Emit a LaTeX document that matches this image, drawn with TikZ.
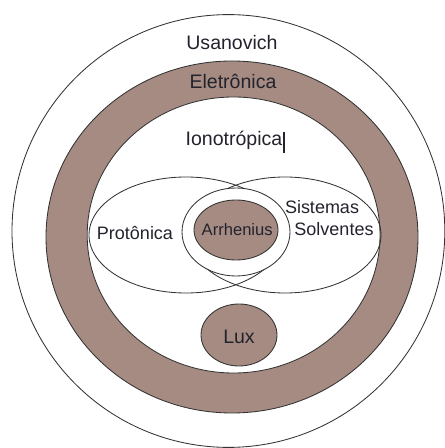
\documentclass[tikz,border=0pt]{standalone}
\usepackage{fontspec}
\setmainfont{Liberation Sans}
\usepackage{tikz}
\usetikzlibrary{positioning}
\definecolor{ringbrown}{RGB}{165,139,130}
\definecolor{txtdark}{RGB}{35,35,45}
\tikzset{
  rim/.style={draw=black!80, line width=0.6pt},
  lbl/.style={font=\fontsize{13.9}{15}\selectfont, text=txtdark, inner sep=0pt},
  lblsmall/.style={font=\fontsize{12.8}{13.6}\selectfont, text=txtdark, inner sep=0pt, align=center}
}
\begin{document}
\begin{tikzpicture}
                \useasboundingbox (0,0) rectangle (11.125,11.2);
                % rings
                \draw [rim, fill=white] (5.71,5.425) circle (5.41cm);
                \draw [rim, fill=ringbrown] (5.8,5.275) ellipse (4.65cm and 4.4cm);
                \draw [rim, fill=white] (5.84,5.325) ellipse (3.66cm and 3.45cm);
                % overlapping sets
                \draw [rim] (4.65,5.325) ellipse (2.425cm and 1.45cm);
                \draw [rim] (7.125,5.325) ellipse (2.4cm and 1.45cm);
                \draw [rim, fill=white] (5.9,5.4) ellipse (1.35cm and 1.1cm);
                \draw [rim, fill=ringbrown] (5.9,5.45) ellipse (1.05cm and 0.75cm);
                \draw [rim, fill=ringbrown] (5.975,2.825) ellipse (0.95cm and 0.775cm);
                % labels
                \node [lbl] (usan) at (5.8,10.125) {Usanovich};
                \node [lbl] (eletr) at (5.825,9.175) {Eletrônica};
                \node [lbl] (iono) at (5.85,7.7) {Ionotrópica};
                \draw [line width=0.8pt, txtdark] (7.1,7.9) -- (7.1,7.375);
                \node [lblsmall] (prot) at (3.375,5.375) {Protônica};
                \node [lbl, font=\fontsize{11.8}{13}\selectfont] (arrh) at (5.93,5.45) {Arrhenius};
                \node [lblsmall] (sist) at (8.05,6.025) {Sistemas};
                \node [lblsmall] (solv) at (8.35,5.475) {Solventes};
                \node [lbl] (lux) at (5.975,2.775) {Lux};
            \end{tikzpicture}
\end{document}
